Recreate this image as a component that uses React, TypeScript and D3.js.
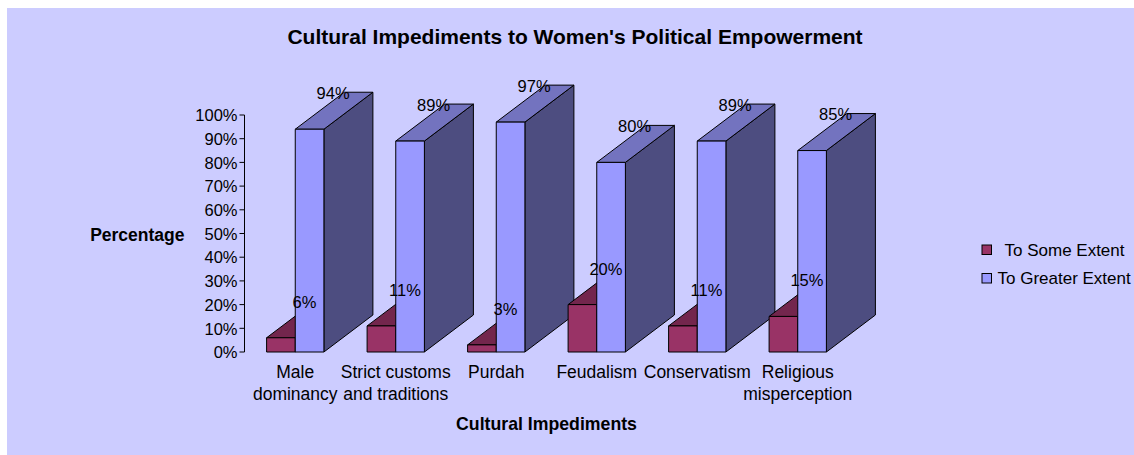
import React from "react";
import * as d3 from "d3";

const categories: string[][] = [
  ["Male", "dominancy"],
  ["Strict customs", "and traditions"],
  ["Purdah"],
  ["Feudalism"],
  ["Conservatism"],
  ["Religious", "misperception"],
];
const seriesNames = ["To Some Extent", "To Greater Extent"];
const someExtent = [0.06, 0.11, 0.03, 0.2, 0.11, 0.15];
const greaterExtent = [0.94, 0.89, 0.97, 0.8, 0.89, 0.85];
const yTicks = [0, 0.1, 0.2, 0.3, 0.4, 0.5, 0.6, 0.7, 0.8, 0.9, 1.0];

const colors = [
  { front: "#993366", top: "#73264D", side: "#4D1A33" },
  { front: "#9999FF", top: "#7373BF", side: "#4D4D80" },
];

const FONT = "'Liberation Sans', Arial, sans-serif";

export default function App() {
  const W = 1134, H = 455;
  const axisX = 244.5;
  const y = d3.scaleLinear().domain([0, 1]).range([352, 115]);
  const catKeys = categories.map((c) => c.join(" "));
  const x0 = d3
    .scaleBand<string>()
    .domain(catKeys)
    .range([245, 848])
    .paddingInner(0.43)
    .paddingOuter(0.215);
  const x1 = d3.scaleBand<number>().domain([0, 1]).range([0, x0.bandwidth()]);
  const DX = 49, DY = -37;
  const data = [someExtent, greaterExtent];
  const fmt = d3.format(".0%");

  const bars: JSX.Element[] = [];
  const labels: JSX.Element[] = [];
  catKeys.forEach((k, i) => {
    data.forEach((vals, s) => {
      const v = vals[i];
      const xl = (x0(k) as number) + (x1(s) as number);
      const xr = xl + x1.bandwidth();
      const yt = y(v);
      const yb = y(0);
      const c = colors[s];
      const pts = (arr: number[][]) => arr.map((p) => p.join(",")).join(" ");
      bars.push(
        <g key={`b${i}-${s}`} stroke="#000" strokeWidth={1} strokeLinejoin="round">
          <polygon
            points={pts([[xr, yb], [xr + DX, yb + DY], [xr + DX, yt + DY], [xr, yt]])}
            fill={c.side}
          />
          <polygon
            points={pts([[xl, yt], [xl + DX, yt + DY], [xr + DX, yt + DY], [xr, yt]])}
            fill={c.top}
          />
          <rect x={xl} y={yt} width={xr - xl} height={yb - yt} fill={c.front} />
        </g>
      );
      labels.push(
        <text
          key={`l${i}-${s}`}
          x={(xl + xr) / 2 + 23.5}
          y={yt - 36}
          dy="0.36em"
          textAnchor="middle"
          fontSize={16.5}
          fill="#000"
        >
          {fmt(v)}
        </text>
      );
    });
  });

  return (
    <svg
      width={W}
      height={H}
      style={{ position: "absolute", left: 0, top: 0 }}
      fontFamily={FONT}
    >
      <rect x={0} y={0} width={W} height={H} fill="#fff" />
      <rect x={7} y={8} width={W - 7} height={H - 8} fill="#CCCCFF" />
      <text x={575} y={43.5} textAnchor="middle" fontSize={21} fontWeight="bold">
        Cultural Impediments to Women's Political Empowerment
      </text>

      {/* y axis */}
      <line x1={axisX} x2={axisX} y1={y(1)} y2={y(0)} stroke="#000" strokeWidth={1} />
      {yTicks.map((t) => (
        <g key={t}>
          <line x1={axisX - 5} x2={axisX} y1={y(t)} y2={y(t)} stroke="#000" strokeWidth={1} />
          <text x={237.5} y={y(t)} dy="0.38em" textAnchor="end" fontSize={16.5}>
            {fmt(t)}
          </text>
        </g>
      ))}
      <text x={184.5} y={241} textAnchor="end" fontSize={17.5} fontWeight="bold">
        Percentage
      </text>

      {bars}
      {labels}

      {/* category labels */}
      {categories.map((lines, i) => {
        const cx = (x0(catKeys[i]) as number) + x0.bandwidth() / 2;
        return (
          <text key={i} textAnchor="middle" fontSize={17.5}>
            {lines.map((ln, j) => (
              <tspan key={j} x={cx} y={377.5 + j * 22}>
                {ln}
              </tspan>
            ))}
          </text>
        );
      })}
      <text x={546.5} y={430} textAnchor="middle" fontSize={17.7} fontWeight="bold">
        Cultural Impediments
      </text>

      {/* legend */}
      <rect x={982} y={245} width={9.5} height={9.5} fill={colors[0].front} stroke="#000" strokeWidth={1} />
      <text x={1004.5} y={255.5} fontSize={17}>
        {seriesNames[0]}
      </text>
      <rect x={982} y={273.5} width={9.5} height={9.5} fill={colors[1].front} stroke="#000" strokeWidth={1} />
      <text x={997.5} y={283.5} fontSize={17}>
        {seriesNames[1]}
      </text>
    </svg>
  );
}
